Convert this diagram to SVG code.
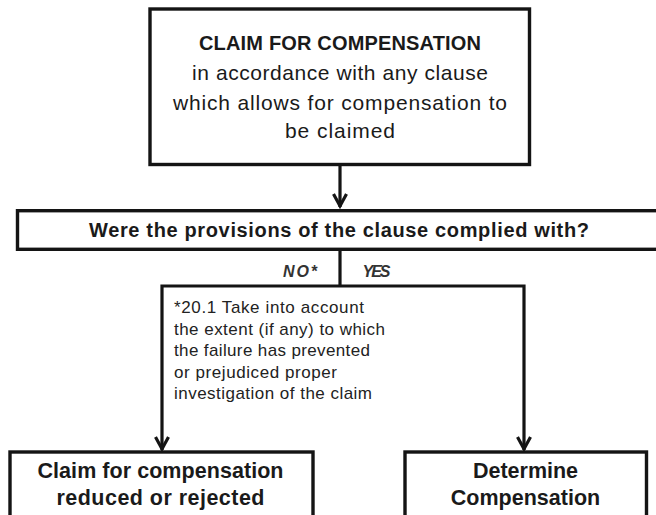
<svg xmlns="http://www.w3.org/2000/svg" width="656" height="515" viewBox="0 0 656 515">
  <style>
    .box { fill: #ffffff; stroke: #141414; stroke-width: 3.4; }
    .wire { fill: none; stroke: #141414; stroke-width: 3.2; }
    text { font-family: "Liberation Sans", Arial, sans-serif; fill: #1a1a1a; text-anchor: middle; }
    .b { font-weight: bold; }
    .reg { font-size: 21px; }
    .q { font-size: 20px; font-weight: bold; }
    .lbl { font-size: 16px; font-weight: bold; font-style: italic; fill: #333; }
    .note { font-size: 17px; text-anchor: start; fill: #222; }
    .out { font-size: 21.5px; font-weight: bold; }
  </style>
  <defs>
    <marker id="head" markerUnits="userSpaceOnUse" viewBox="-16 -10 20 20" markerWidth="20" markerHeight="20" refX="0" refY="0" orient="auto">
      <path d="M-13,-6.5 L-1,0 L-13,6.5" fill="none" stroke="#141414" stroke-width="3.2" stroke-linejoin="miter"/>
    </marker>
  </defs>

  <!-- connectors -->
  <g id="connectors">
    <path class="wire" d="M340,166 V207" marker-end="url(#head)"/>
    <path class="wire" d="M340,251 V286"/>
    <path class="wire" d="M340,286 H162 V450" marker-end="url(#head)"/>
    <path class="wire" d="M340,286 H524 V450" marker-end="url(#head)"/>
  </g>

  <!-- starting claim -->
  <g id="claim">
    <rect class="box" x="150" y="9" width="379.5" height="155.5"/>
    <text class="b" x="340" y="50" font-size="20" textLength="282">CLAIM FOR COMPENSATION</text>
    <text class="reg" x="340" y="80" textLength="296">in accordance with any clause</text>
    <text class="reg" x="340" y="109.5" textLength="334">which allows for compensation to</text>
    <text class="reg" x="340" y="138" textLength="110">be claimed</text>
  </g>

  <!-- compliance question -->
  <g id="question">
    <rect class="box" x="17.5" y="210.7" width="660" height="38.6"/>
    <text class="q" x="339" y="237" textLength="500">Were the provisions of the clause complied with?</text>
  </g>

  <!-- branch labels -->
  <g id="branch-labels">
    <text class="lbl" x="300" y="277" textLength="34">NO*</text>
    <text class="lbl" x="376.5" y="277" textLength="28">YES</text>
  </g>

  <!-- clause 20.1 note -->
  <g id="note">
    <text class="note" x="174" y="313" textLength="190">*20.1 Take into account</text>
    <text class="note" x="174" y="334.5" textLength="211">the extent (if any) to which</text>
    <text class="note" x="174" y="356" textLength="196">the failure has prevented</text>
    <text class="note" x="174" y="377.5" textLength="163">or prejudiced proper</text>
    <text class="note" x="174" y="399" textLength="198">investigation of the claim</text>
  </g>

  <!-- outcome: not complied -->
  <g id="reduced">
    <rect class="box" x="10" y="452" width="303" height="80"/>
    <text class="out" x="160.5" y="478" textLength="246">Claim for compensation</text>
    <text class="out" x="160.5" y="504.5" textLength="208">reduced or rejected</text>
  </g>

  <!-- outcome: complied -->
  <g id="determine">
    <rect class="box" x="405" y="452" width="241.5" height="80"/>
    <text class="out" x="525.5" y="478">Determine</text>
    <text class="out" x="525.5" y="504.5">Compensation</text>
  </g>
</svg>
